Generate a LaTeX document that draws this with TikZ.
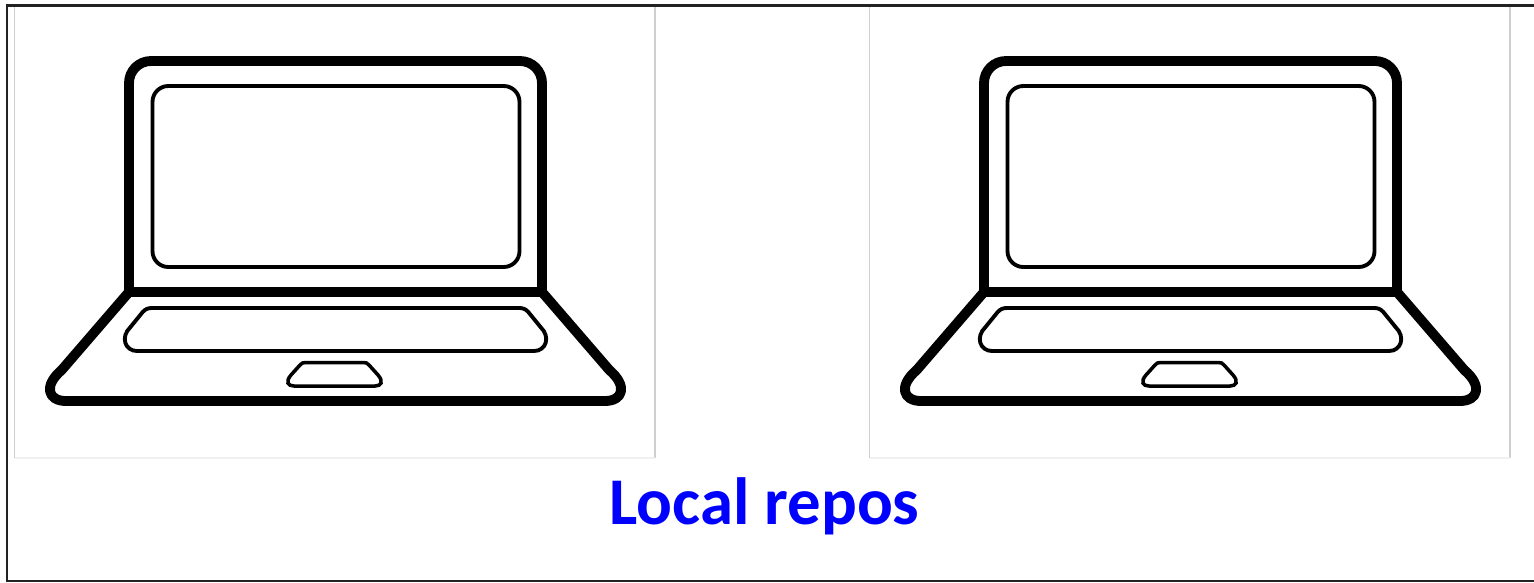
\documentclass[tikz,border=0pt]{standalone}
\usepackage{fontspec}
\setmainfont{Carlito}
\usetikzlibrary{positioning}
\definecolor{repoblue}{HTML}{0000FF}
\definecolor{panelside}{HTML}{CFCFCF}
\definecolor{panelfoot}{HTML}{F0F0F0}
\definecolor{framegray}{HTML}{222222}
\tikzset{
  thickline/.style={black,line width=5.6pt,line join=round},
  thinline/.style={black,line width=2.2pt},
  padline/.style={black,line width=2pt},
  repolabel/.style={text=repoblue,font=\bfseries\fontsize{38}{44}\selectfont,anchor=base,inner sep=0pt},
  laptop/.pic={
    \draw[panelside,line width=0.6pt] (14.5,458)--(14.5,6) (655,458)--(655,6);
    \draw[panelfoot,line width=0.6pt] (14.5,458)--(655,458);
    \draw[thickline,rounded corners=12.5pt] (129,292)--(129,61)--(542,61)--(542,292);
    \draw[thickline] (66,401) .. controls (48,401) and (43,386) .. (61.7,370)--(129,292)--(542,292)--(609.3,370) .. controls (628,386) and (623,401) .. (605,401)--cycle;
    \draw[thinline,rounded corners=9pt] (152.5,86) rectangle (519.5,267);
    \draw[thinline] (152,308)--(519,308) .. controls (523,308) and (525.5,309) .. (528.3,312)--(540.5,327) .. controls (551,337) and (546,351) .. (534,351)--(137,351) .. controls (125,351) and (120,337) .. (130.5,327)--(142.7,312) .. controls (145.5,309) and (148,308) .. (152,308)--cycle;
    \draw[padline] (306,362.5)--(363,362.5) .. controls (366,362.5) and (367.5,363) .. (369,365)--(378,375) .. controls (384,382) and (381,386) .. (375,386)--(294,386) .. controls (288,386) and (285,382) .. (291,375)--(300,365) .. controls (301.5,363) and (303,362.5) .. (306,362.5)--cycle;
  }
}
\begin{document}
\begin{tikzpicture}[x=0.02cm,y=-0.02cm]
  \useasboundingbox (0,0) rectangle (1534,582);
  \foreach \n/\dx in {one/0,two/855}{
    \pic (\n) at (\dx,0) {laptop};
  }
  \draw[framegray,line width=1.3pt] (1534,5.5)--(7,5.5)--(7,581)--(1534,581);
  \node[repolabel] (repos) at (764.5,524) {Local repos};
\end{tikzpicture}
\end{document}
